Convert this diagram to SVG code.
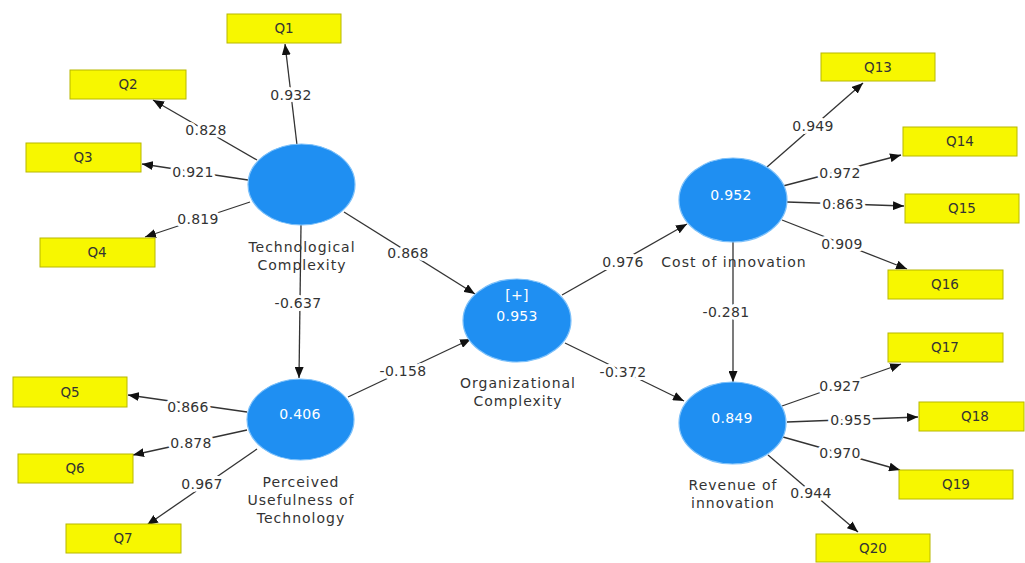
<svg xmlns="http://www.w3.org/2000/svg" width="1025" height="563" viewBox="0 0 1025 563">
<defs>
<marker id="arr" markerUnits="userSpaceOnUse" markerWidth="11" markerHeight="9" refX="11" refY="4.5" orient="auto">
<path d="M0,0 L11,4.5 L0,9 z" fill="#111"/>
</marker>
<style>
.ind rect{fill:#f7f700;stroke:#b8b800;stroke-width:1}
.ind text{font-family:"DejaVu Sans",sans-serif;font-size:13.5px;fill:#333;text-anchor:middle}
.lv ellipse{fill:#1f8ff2;stroke:#7cc0fa;stroke-width:1.2}
.lv text{font-family:"DejaVu Sans",sans-serif;font-size:14px;letter-spacing:1px;fill:#333;text-anchor:middle}
.lv text.v{fill:#fff;letter-spacing:0.3px}
.con line{stroke:#333;stroke-width:1.3;marker-end:url(#arr)}
.con text{font-family:"DejaVu Sans",sans-serif;font-size:14px;letter-spacing:0.3px;fill:#333;text-anchor:middle;stroke:#fff;stroke-width:6;paint-order:stroke;stroke-linejoin:round}
</style>
</defs>
<rect width="1025" height="563" fill="#fff"/>
<g class="con" id="connectors">
<line x1="297" y1="145" x2="285" y2="44"/>
<line x1="257" y1="160" x2="153" y2="100"/>
<line x1="248" y1="180" x2="142" y2="164"/>
<line x1="250" y1="202" x2="145" y2="237"/>
<line x1="344" y1="212" x2="475" y2="294"/>
<line x1="301" y1="225" x2="299" y2="378"/>
<line x1="247" y1="412" x2="128" y2="395"/>
<line x1="247" y1="430" x2="133" y2="455"/>
<line x1="257" y1="449" x2="147" y2="525"/>
<line x1="348" y1="397" x2="471" y2="339"/>
<line x1="562" y1="295" x2="687" y2="224"/>
<line x1="565" y1="343" x2="684" y2="401"/>
<line x1="767" y1="167" x2="863" y2="83"/>
<line x1="783" y1="186" x2="901" y2="155"/>
<line x1="787" y1="202" x2="904" y2="206"/>
<line x1="782" y1="220" x2="907" y2="269"/>
<line x1="733" y1="242" x2="733" y2="382"/>
<line x1="782" y1="406" x2="901" y2="364"/>
<line x1="787" y1="422" x2="918" y2="417"/>
<line x1="783" y1="437" x2="900" y2="470"/>
<line x1="768" y1="455" x2="858" y2="532"/>
<text x="291" y="100">0.932</text>
<text x="206" y="135">0.828</text>
<text x="193" y="177">0.921</text>
<text x="198" y="224">0.819</text>
<text x="408" y="258">0.868</text>
<text x="298" y="308">-0.637</text>
<text x="188" y="412">0.866</text>
<text x="191" y="448">0.878</text>
<text x="202" y="489">0.967</text>
<text x="403" y="376">-0.158</text>
<text x="623" y="267">0.976</text>
<text x="623" y="377">-0.372</text>
<text x="813" y="131">0.949</text>
<text x="840" y="178">0.972</text>
<text x="843" y="209">0.863</text>
<text x="842" y="249">0.909</text>
<text x="726" y="317">-0.281</text>
<text x="840" y="391">0.927</text>
<text x="851" y="425">0.955</text>
<text x="840" y="458">0.970</text>
<text x="811" y="498">0.944</text>
</g>
<g class="lv" id="tech">
<ellipse cx="301.5" cy="184.5" rx="53.5" ry="40.5"/>
<text x="302" y="252">Technological</text>
<text x="302" y="270">Complexity</text>
</g>
<g class="lv" id="pu">
<ellipse cx="300.5" cy="419.5" rx="53.5" ry="40.5"/>
<text class="v" x="300" y="419">0.406</text>
<text x="301" y="487">Perceived</text>
<text x="301" y="505">Usefulness of</text>
<text x="301" y="523">Technology</text>
</g>
<g class="lv" id="oc">
<ellipse cx="517" cy="320.5" rx="54" ry="41.5"/>
<text class="v" x="517" y="300">[+]</text>
<text class="v" x="517" y="321">0.953</text>
<text x="518" y="388">Organizational</text>
<text x="518" y="406">Complexity</text>
</g>
<g class="lv" id="ci">
<ellipse cx="733" cy="200" rx="54" ry="42"/>
<text class="v" x="731" y="200">0.952</text>
<text x="734" y="267">Cost of innovation</text>
</g>
<g class="lv" id="ri">
<ellipse cx="732.5" cy="423" rx="53.5" ry="41"/>
<text class="v" x="732" y="423">0.849</text>
<text x="733" y="490">Revenue of</text>
<text x="733" y="508">innovation</text>
</g>
<g class="ind" id="q1"><rect x="227" y="14" width="114" height="29"/><text x="284" y="33">Q1</text></g>
<g class="ind" id="q2"><rect x="70" y="70" width="116" height="29"/><text x="128" y="89">Q2</text></g>
<g class="ind" id="q3"><rect x="26" y="143" width="115" height="29"/><text x="83" y="162">Q3</text></g>
<g class="ind" id="q4"><rect x="40" y="238" width="115" height="29"/><text x="97" y="257">Q4</text></g>
<g class="ind" id="q5"><rect x="13" y="377" width="114" height="30"/><text x="70" y="397">Q5</text></g>
<g class="ind" id="q6"><rect x="18" y="454" width="115" height="29"/><text x="75" y="473">Q6</text></g>
<g class="ind" id="q7"><rect x="66" y="524" width="115" height="29"/><text x="123" y="543">Q7</text></g>
<g class="ind" id="q13"><rect x="821" y="53" width="114" height="28"/><text x="878" y="72">Q13</text></g>
<g class="ind" id="q14"><rect x="903" y="127" width="114" height="29"/><text x="960" y="146">Q14</text></g>
<g class="ind" id="q15"><rect x="905" y="194" width="114" height="29"/><text x="962" y="213">Q15</text></g>
<g class="ind" id="q16"><rect x="888" y="270" width="115" height="29"/><text x="945" y="289">Q16</text></g>
<g class="ind" id="q17"><rect x="888" y="333" width="115" height="29"/><text x="945" y="352">Q17</text></g>
<g class="ind" id="q18"><rect x="919" y="402" width="105" height="29"/><text x="975" y="421">Q18</text></g>
<g class="ind" id="q19"><rect x="899" y="470" width="114" height="29"/><text x="956" y="489">Q19</text></g>
<g class="ind" id="q20"><rect x="816" y="534" width="114" height="28"/><text x="873" y="553">Q20</text></g>
</svg>
